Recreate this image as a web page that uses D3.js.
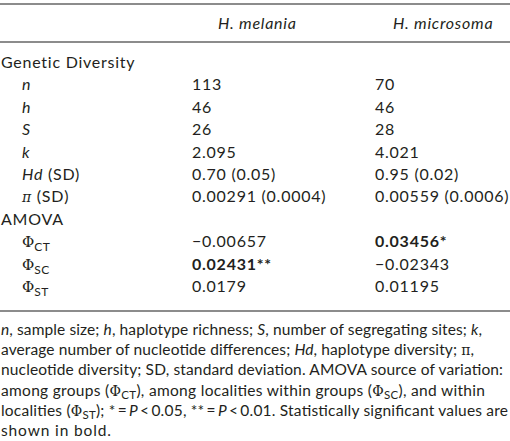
<!DOCTYPE html>
<html>
<head>
<meta charset="utf-8">
<script src="https://cdn.jsdelivr.net/npm/d3@7"></script>
<style>
  html, body { margin: 0; padding: 0; background: #fff; }
  svg { display: block; }
  text { font-family: Lato, "Open Sans", sans-serif; fill: #231f20; }
</style>
</head>
<body>
<script>
// ---------- data ----------
const columns = ["H. melania", "H. microsoma"];
const sectionTitles = ["Genetic Diversity", "AMOVA"];
const diversityLabels = ["n", "h", "S", "k", "Hd", "π"];
const diversitySuffix = ["", "", "", "", " (SD)", " (SD)"];
const melaniaDiversity = ["113", "46", "26", "2.095", "0.70 (0.05)", "0.00291 (0.0004)"];
const microsomaDiversity = ["70", "46", "28", "4.021", "0.95 (0.02)", "0.00559 (0.0006)"];
const amovaSubscripts = ["CT", "SC", "ST"];
const melaniaAmova = ["−0.00657", "0.02431**", "0.0179"];
const microsomaAmova = ["0.03456*", "−0.02343", "0.01195"];
const melaniaBold = [false, true, false];
const microsomaBold = [true, false, false];
const footnoteLines = [
  [["n", "i"], [", sample size; "], ["h", "i"], [", haplotype richness; "], ["S", "i"], [", number of segregating sites; "], ["k", "i"], [","]],
  [["average number of nucleotide differences; "], ["Hd", "i"], [", haplotype diversity; "], ["π", "m"], [","]],
  [["nucleotide diversity; SD, standard deviation. AMOVA source of variation:"]],
  [["among groups ("], ["Φ", "m"], ["CT", "sub"], ["), among localities within groups ("], ["Φ", "m"], ["SC", "sub"], ["), and within"]],
  [["localities ("], ["Φ", "m"], ["ST", "sub"], ["); *\u2009=\u2009"], ["P", "i"], ["\u2009<\u20090.05, **\u2009=\u2009"], ["P", "i"], ["\u2009<\u20090.01. Statistically significant values are"]],
  [["shown in bold."]]
];

// ---------- layout ----------
const W = 510, H = 441;
const FS = 16;
const LS = 0.75;
const SUB = 3;
const footWidths = [481, 473, 502, 484, 507, 110];
const svg = d3.select("body").append("svg").attr("width", W).attr("height", H);

const rowIds = ["sec0", ...diversityLabels.map((d, i) => "d" + i), "sec1", ...amovaSubscripts.map((d, i) => "a" + i)];
const y = d3.scalePoint().domain(rowIds).range([68, 292]);
const x = d3.scaleOrdinal().domain(["section", "label", ...columns]).range([1, 22, 192, 375]);
const headerX = d3.scaleOrdinal().domain(columns).range([218, 393]);

// rules
const rules = [4, 42, 311];
svg.selectAll("line.rule").data(rules).join("line")
  .attr("class", "rule")
  .attr("x1", 0).attr("x2", W)
  .attr("y1", d => d).attr("y2", d => d)
  .attr("stroke", "#666").attr("stroke-width", 1.6);

// header
svg.selectAll("text.head").data(columns).join("text")
  .attr("class", "head")
  .attr("x", d => headerX(d)).attr("y", 29)
  .attr("font-size", FS).attr("font-style", "italic")
  .attr("letter-spacing", LS)
  .text(d => d);

// section titles
svg.selectAll("text.sec").data(sectionTitles).join("text")
  .attr("class", "sec")
  .attr("x", x("section")).attr("y", (d, i) => y("sec" + i))
  .attr("font-size", FS).attr("letter-spacing", LS)
  .text(d => d);

// diversity labels
const dl = svg.selectAll("text.dlab").data(diversityLabels).join("text")
  .attr("class", "dlab")
  .attr("x", x("label")).attr("y", (d, i) => y("d" + i))
  .attr("font-size", FS).attr("letter-spacing", LS);
dl.append("tspan")
  .attr("font-style", "italic")
  .style("font-family", d => d === "π" ? "'DejaVu Serif', serif" : null)
  .attr("font-size", d => d === "π" ? FS - 2 : FS)
  .text(d => d);
dl.append("tspan").text((d, i) => diversitySuffix[i]);

// amova labels
const al = svg.selectAll("text.alab").data(amovaSubscripts).join("text")
  .attr("class", "alab")
  .attr("x", x("label")).attr("y", (d, i) => y("a" + i))
  .attr("font-size", FS);
al.append("tspan").style("font-family", "'DejaVu Serif', serif").attr("font-size", FS - 1).text("Φ");
al.append("tspan").attr("font-size", FS - 4).attr("dy", 4).attr("letter-spacing", 0.4).text(d => d);

// values
function drawCol(cls, col, divVals, amVals, boldFlags) {
  svg.selectAll("text." + cls + "d").data(divVals).join("text")
    .attr("class", cls + "d")
    .attr("x", x(col)).attr("y", (d, i) => y("d" + i))
    .attr("font-size", FS).attr("letter-spacing", LS)
    .text(d => d);
  svg.selectAll("text." + cls + "a").data(amVals).join("text")
    .attr("class", cls + "a")
    .attr("x", x(col)).attr("y", (d, i) => y("a" + i))
    .attr("font-size", FS).attr("letter-spacing", LS)
    .attr("font-weight", (d, i) => boldFlags[i] ? "bold" : "normal")
    .text(d => d);
}
drawCol("m", columns[0], melaniaDiversity, melaniaAmova, melaniaBold);
drawCol("s", columns[1], microsomaDiversity, microsomaAmova, microsomaBold);

// footnote
const fy = d3.scalePoint().domain(d3.range(footnoteLines.length)).range([335, 436]);
const fl = svg.selectAll("text.foot").data(footnoteLines).join("text")
  .attr("class", "foot")
  .attr("x", 1).attr("y", (d, i) => fy(i))
  .attr("font-size", FS - 0.5)
  .attr("textLength", (d, i) => footWidths[i])
  .attr("lengthAdjust", "spacing");
fl.each(function(parts) {
  const t = d3.select(this);
  parts.forEach(([s, kind], j) => {
    const prevSub = j > 0 && parts[j - 1][1] === "sub";
    const sp = t.append("tspan").text(s);
    if (kind === "i") sp.attr("font-style", "italic");
    if (kind === "m") sp.style("font-family", "'DejaVu Serif', serif").attr("font-size", FS - 2);
    if (kind === "sub") sp.attr("font-size", FS - 4.5).attr("dy", SUB);
    if (prevSub) sp.attr("dy", -SUB);
  });
});
</script>
</body>
</html>
